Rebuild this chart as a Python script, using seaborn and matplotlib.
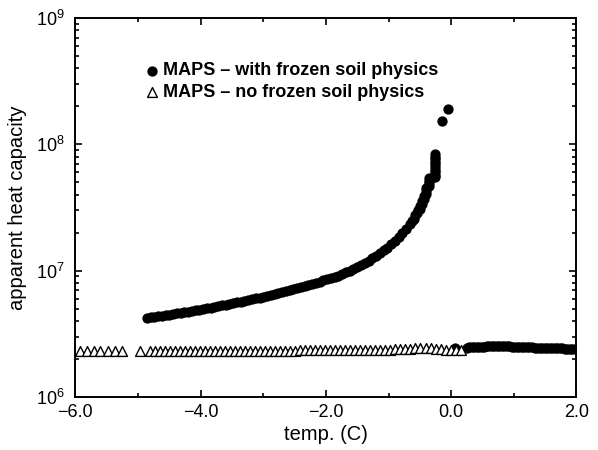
import numpy as np
import pandas as pd
import matplotlib
matplotlib.use('Agg')
import matplotlib.pyplot as plt
import matplotlib.ticker as mticker
import seaborn as sns

# frozen soil run: temperature (C) and apparent heat capacity (units of 1e6)
frozen_temp = [
    -4.86, -4.80, -4.74, -4.68, -4.62, -4.56, -4.50, -4.44, -4.38, -4.32,
    -4.26, -4.20, -4.14, -4.08, -4.02, -3.96, -3.90, -3.84, -3.78, -3.72,
    -3.66, -3.60, -3.54, -3.48, -3.42, -3.36, -3.30, -3.24, -3.18, -3.12,
    -3.06, -3.00, -2.94, -2.88, -2.82, -2.76, -2.70, -2.64, -2.58, -2.52,
    -2.46, -2.40, -2.34, -2.28, -2.22, -2.16, -2.10, -2.04, -1.98, -1.92,
    -1.86, -1.80, -1.74, -1.68, -1.62, -1.56, -1.50, -1.44, -1.38, -1.32,
    -1.26, -1.20, -1.14, -1.08, -1.02, -0.96, -0.90, -0.84, -0.78, -0.72,
    -0.66, -0.62, -0.60, -0.57, -0.55, -0.53, -0.50, -0.50, -0.47, -0.47,
    -0.44, -0.44, -0.40, -0.40, -0.40, -0.35, -0.35, -0.35, -0.35,
    -0.26, -0.26, -0.26, -0.26, -0.26, -0.26, -0.26, -0.26, -0.26, -0.26,
    -0.15, -0.045,
    0.06, 0.25, 0.29, 0.33, 0.37, 0.41, 0.45, 0.49, 0.53, 0.57, 0.61,
    0.65, 0.69, 0.73, 0.77, 0.81, 0.85, 0.89, 0.93, 0.97, 1.01, 1.05,
    1.09, 1.13, 1.17, 1.21, 1.25, 1.29, 1.33, 1.37, 1.41, 1.45, 1.49,
    1.53, 1.57, 1.61, 1.65, 1.69, 1.73, 1.77, 1.81, 1.85, 1.89, 1.93,
    1.97, 2.01, 2.05,
]
frozen_cap = [
    4.21, 4.26, 4.31, 4.36, 4.40, 4.45, 4.49, 4.54, 4.59, 4.63,
    4.69, 4.74, 4.80, 4.85, 4.91, 4.98, 5.04, 5.09, 5.16, 5.24,
    5.30, 5.37, 5.45, 5.52, 5.60, 5.68, 5.75, 5.85, 5.93, 6.03,
    6.11, 6.21, 6.31, 6.41, 6.53, 6.64, 6.76, 6.87, 7.00, 7.13,
    7.26, 7.40, 7.55, 7.69, 7.85, 8.02, 8.18, 8.36, 8.53, 8.73,
    8.91, 9.12, 9.40, 9.68, 9.98, 10.3, 10.7, 11.1, 11.5, 12.0,
    12.6, 13.1, 13.8, 14.5, 15.2, 16.1, 17.2, 18.4, 19.8, 21.5,
    23.5, 24.5, 25.7, 27.5, 28.8, 30.2, 30.9, 32.4, 33.9, 35.5,
    37.2, 38.9, 40.7, 42.7, 44.7, 46.8, 49.0, 51.3, 53.7,
    55.0, 57.5, 60.3, 63.1, 66.1, 69.2, 72.4, 75.9, 79.4, 83.2,
    154.0, 190.0,
    2.45, 2.46, 2.47, 2.47, 2.48, 2.48, 2.49, 2.50, 2.50, 2.51, 2.51,
    2.52, 2.52, 2.52, 2.52, 2.52, 2.51, 2.51, 2.51, 2.50, 2.50, 2.50,
    2.49, 2.49, 2.48, 2.48, 2.47, 2.47, 2.46, 2.46, 2.45, 2.45, 2.44,
    2.44, 2.43, 2.43, 2.43, 2.42, 2.42, 2.42, 2.41, 2.41, 2.41, 2.40,
    2.40, 2.40, 2.40,
]

# run without frozen soil physics
nofrz_temp = [
    -5.93, -5.82, -5.71, -5.60, -5.48, -5.37, -5.26, -4.97,
    -4.81, -4.73, -4.65, -4.57, -4.49, -4.41, -4.33, -4.25, -4.17, -4.09,
    -4.01, -3.93, -3.85, -3.77, -3.69, -3.61, -3.53, -3.45, -3.37, -3.29,
    -3.21, -3.13, -3.05, -2.97, -2.89, -2.81, -2.73, -2.65, -2.57, -2.49,
    -2.41, -2.33, -2.25, -2.17, -2.09, -2.01, -1.93, -1.85, -1.77, -1.69,
    -1.61, -1.53, -1.45, -1.37, -1.29, -1.21, -1.13, -1.05, -0.97, -0.89,
    -0.81, -0.73, -0.65, -0.57, -0.49, -0.41, -0.33, -0.25, -0.17, -0.09,
    -0.01, 0.07, 0.15,
]
nofrz_cap = [
    2.33, 2.33, 2.33, 2.33, 2.33, 2.33, 2.33, 2.33,
    2.33, 2.33, 2.33, 2.33, 2.33, 2.33, 2.33, 2.33, 2.33, 2.33,
    2.33, 2.33, 2.33, 2.33, 2.33, 2.33, 2.33, 2.33, 2.33, 2.33,
    2.33, 2.33, 2.33, 2.33, 2.33, 2.33, 2.33, 2.33, 2.33, 2.33,
    2.34, 2.34, 2.34, 2.34, 2.34, 2.34, 2.35, 2.35, 2.35, 2.35,
    2.35, 2.35, 2.35, 2.36, 2.36, 2.36, 2.36, 2.37, 2.37, 2.38,
    2.38, 2.39, 2.40, 2.42, 2.43, 2.43, 2.42, 2.40, 2.38, 2.36,
    2.35, 2.35, 2.35,
]

x_ticks = [-6.0, -4.0, -2.0, 0.0, 2.0]

frz = pd.DataFrame({'temp': frozen_temp, 'cap': np.array(frozen_cap) * 1e6})
nofrz = pd.DataFrame({'temp': nofrz_temp, 'cap': np.array(nofrz_cap) * 1e6})

sns.set_style('ticks')
plt.rcParams['font.family'] = ['Liberation Sans', 'DejaVu Sans']
plt.rcParams['mathtext.default'] = 'regular'
plt.rcParams['text.color'] = 'black'
plt.rcParams['axes.labelcolor'] = 'black'
plt.rcParams['xtick.color'] = 'black'
plt.rcParams['ytick.color'] = 'black'

fig = plt.figure(figsize=(5.98, 4.5), dpi=100)
ax = fig.add_axes([0.126, 0.118, 0.838, 0.842])

sns.scatterplot(data=frz, x='temp', y='cap', marker='o', color='black',
                s=55, linewidth=0, label='MAPS \u2013 with frozen soil physics', ax=ax)
sns.scatterplot(data=nofrz, x='temp', y='cap', marker='^', facecolor='white',
                edgecolor='black', s=50, linewidth=1.0,
                label='MAPS \u2013 no frozen soil physics', ax=ax)

ax.set_yscale('log')
ax.set_xlim(-6, 2)
ax.set_ylim(1e6, 1e9)
ax.set_xticks(x_ticks)
ax.xaxis.set_major_formatter(mticker.FuncFormatter(lambda v, p: f'{v:.1f}'.replace('-', '\u2212')))
ax.xaxis.set_minor_locator(mticker.AutoMinorLocator(2))
ax.yaxis.set_major_locator(mticker.LogLocator(base=10))
ax.yaxis.set_minor_locator(mticker.LogLocator(base=10, subs=np.arange(2, 10)))
ax.yaxis.set_minor_formatter(mticker.NullFormatter())

ax.tick_params(which='both', direction='in', top=True, right=True, labelsize=13,
               width=1.2, colors='black')
ax.tick_params(which='major', length=5, pad=5)
ax.tick_params(which='minor', length=3)
ax.tick_params(axis='y', pad=8)
for sp in ax.spines.values():
    sp.set_linewidth(1.4)
    sp.set_color('black')

ax.set_xlabel('temp. (C)', fontsize=14.5, labelpad=3)
ax.set_ylabel('apparent heat capacity', fontsize=14.5, labelpad=6)

leg = ax.legend(loc='center left', bbox_to_anchor=(0.142, 0.832), frameon=False,
                prop={'weight': 'bold', 'size': 13}, handlelength=0.6,
                handletextpad=0.3, labelspacing=0.25, borderpad=0, borderaxespad=0)
for t in leg.get_texts():
    t.set_color('black')

plt.savefig('out.png', dpi=100)
plt.close()
